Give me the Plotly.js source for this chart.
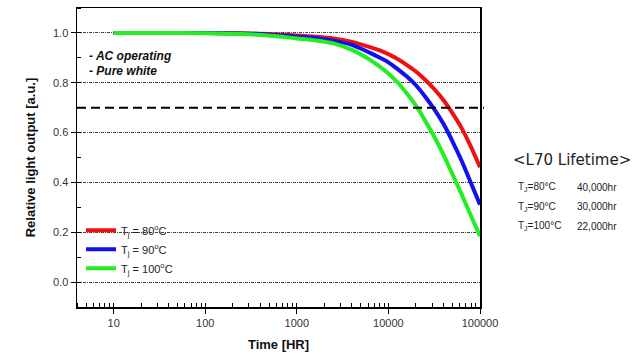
<!DOCTYPE html>
<html>
<head>
<meta charset="utf-8">
<script src="https://cdn.plot.ly/plotly-3.0.1.min.js"></script>
<style>html,body{margin:0;padding:0;background:#fff;}#chart{width:642px;height:358px;}</style>
</head>
<body>
<div id="chart"></div>
<script>
const hours = [10, 30, 100, 300, 600, 1000, 1600, 2500, 4000, 6300, 7900, 10000, 12600, 15800, 20000, 25000, 31600, 40000, 50000, 63000, 79000, 100000];
const tj80  = [1.0, 1.0, 1.0, 0.998, 0.994, 0.99, 0.985, 0.978, 0.964, 0.943, 0.931, 0.915, 0.895, 0.872, 0.845, 0.813, 0.775, 0.73, 0.678, 0.618, 0.546, 0.461];
const tj90  = [1.0, 1.0, 1.0, 0.997, 0.991, 0.985, 0.98, 0.969, 0.952, 0.92, 0.902, 0.882, 0.855, 0.826, 0.79, 0.746, 0.694, 0.634, 0.565, 0.487, 0.401, 0.31];
const tj100 = [1.0, 1.0, 0.999, 0.995, 0.987, 0.978, 0.97, 0.958, 0.932, 0.892, 0.867, 0.837, 0.801, 0.758, 0.708, 0.65, 0.584, 0.511, 0.433, 0.352, 0.269, 0.184];
const seriesNames = ['T<sub>j</sub> = 80<sup>o</sup>C', 'T<sub>j</sub> = 90<sup>o</sup>C', 'T<sub>j</sub> = 100<sup>o</sup>C'];
const seriesColors = ['#ee1111', '#1111ee', '#22ee22'];
const l70Level = 0.7;
const xTickVals = [10, 100, 1000, 10000, 100000];
const xTickText = ['10', '100', '1000', '10000', '100000'];
const lifetimeRows = [
  ['T<sub>J</sub>=80°C', '40,000hr'],
  ['T<sub>J</sub>=90°C', '30,000hr'],
  ['T<sub>J</sub>=100°C', '22,000hr']
];
const notes = ['<b><i>- AC operating</i></b>', '<b><i>- Pure white</i></b>'];

const series = [tj80, tj90, tj100];
const traces = series.map((ys, i) => ({
  x: hours, y: ys, type: 'scatter', mode: 'lines', name: seriesNames[i],
  line: {color: seriesColors[i], width: 4, shape: 'spline', smoothing: 0.8}
}));

const annotations = [];
notes.forEach((t, i) => annotations.push({
  text: t, xref: 'paper', yref: 'paper', x: 0.025, y: 0.84 - i * 0.05,
  xanchor: 'left', yanchor: 'middle', showarrow: false,
  font: {size: 12, color: '#111', family: 'Liberation Sans, Arial, sans-serif'}
}));
annotations.push({
  text: '&lt;L70 Lifetime&gt;', xref: 'paper', yref: 'paper', x: 1.078, y: 0.49,
  xanchor: 'left', yanchor: 'middle', showarrow: false,
  font: {size: 15, color: '#222', family: 'DejaVu Sans, sans-serif'}
});
lifetimeRows.forEach((r, i) => {
  annotations.push({
    text: r[0], xref: 'paper', yref: 'paper', x: 1.09, y: 0.40 - i * 0.065,
    xanchor: 'left', yanchor: 'middle', showarrow: false,
    font: {size: 10, color: '#222', family: 'Liberation Sans, Arial, sans-serif'}
  });
  annotations.push({
    text: r[1], xref: 'paper', yref: 'paper', x: 1.235, y: 0.40 - i * 0.065,
    xanchor: 'left', yanchor: 'middle', showarrow: false,
    font: {size: 10, color: '#222', family: 'Liberation Sans, Arial, sans-serif'}
  });
});

const layout = {
  width: 642, height: 358,
  margin: {l: 77, r: 162, t: 8, b: 51},
  paper_bgcolor: '#fff', plot_bgcolor: '#fff',
  font: {family: 'Liberation Sans, Arial, sans-serif', color: '#222', size: 11},
  showlegend: true,
  legend: {
    x: 0.01, y: 0.305, xanchor: 'left', yanchor: 'top',
    bgcolor: 'rgba(0,0,0,0)', font: {size: 11, color: '#222'},
    tracegroupgap: 0, itemwidth: 30
  },
  xaxis: {
    type: 'log', range: [0.6, 5],
    tickvals: xTickVals, ticktext: xTickText,
    ticks: 'outside', ticklen: 5, tickcolor: '#000', tickwidth: 1,
    showline: true, linecolor: '#000', linewidth: 1.5, mirror: true,
    showgrid: false, zeroline: false,
    minor: {ticks: 'inside', ticklen: 4, tickcolor: '#000', dtick: 'D1', showgrid: false},
    tickfont: {size: 11, color: '#333'},
    title: {text: '<b>Time [HR]</b>', font: {size: 13, color: '#111'}, standoff: 12}
  },
  yaxis: {
    range: [-0.1, 1.1], tickvals: [0, 0.2, 0.4, 0.6, 0.8, 1.0],
    tickformat: '.1f',
    ticks: 'outside', ticklen: 5, tickcolor: '#000',
    showline: true, linecolor: '#000', linewidth: 1.5, mirror: true,
    showgrid: true, gridcolor: '#444', gridwidth: 1, griddash: '3px,1px,1px,1px',
    zeroline: false,
    minor: {ticks: 'inside', ticklen: 4, tickcolor: '#000', dtick: 0.1, showgrid: false},
    tickfont: {size: 11, color: '#333'},
    title: {text: '<b>Relative light output [a.u.]</b>', font: {size: 13, color: '#111'}, standoff: 14}
  },
  shapes: [{
    type: 'line', xref: 'paper', yref: 'y', x0: 0, x1: 1.01, y0: l70Level, y1: l70Level,
    line: {color: '#000', width: 2, dash: '9px,5px'}
  }],
  annotations: annotations
};

Plotly.newPlot('chart', traces, layout, {displayModeBar: false, staticPlot: true});
</script>
</body>
</html>
